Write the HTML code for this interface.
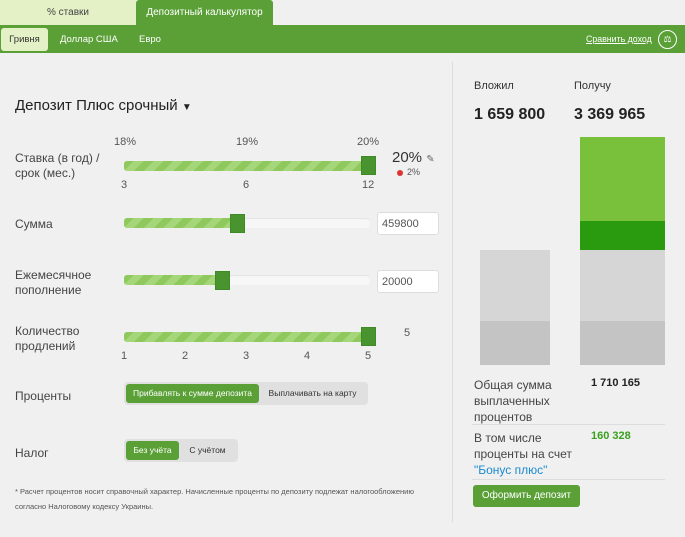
<!DOCTYPE html>
<html><head><meta charset="utf-8"><style>
*{margin:0;padding:0;box-sizing:border-box}
body{width:685px;height:537px;background:#f0f0f0;font-family:"Liberation Sans",Arial,sans-serif;color:#333;position:relative;overflow:hidden}
.a{position:absolute}
.track{position:absolute;height:10px;border-radius:3px;background:#f7f7f7;box-shadow:inset 0 1px 1px #e2e2e2}
.fill{position:absolute;left:0;top:0;height:10px;border-radius:3px;background:repeating-linear-gradient(135deg,#8fc95d 0 7px,#a6d67a 7px 14px)}
.h{position:absolute;width:15px;height:19px;background:#4a9430;border:1px solid #3f8a27}
.lbl{font-size:12px;color:#444;line-height:15px}
.inp{position:absolute;width:62px;height:23px;background:#fff;border:1px solid #ddd;border-radius:3px;font-size:11px;color:#555;padding:5px 4px}
.tg{position:absolute;height:23px;background:#e0e0e0;border-radius:4px;font-size:8.5px;color:#333}
.tg span{position:absolute;top:2px;height:19px;line-height:19px;text-align:center;border-radius:3px;white-space:nowrap}
.on{background:#5aa037;color:#fff}
.tick{font-size:11px;color:#555;position:absolute}
</style></head><body>
<div class="a" style="left:0;top:0;width:136px;height:25px;background:#e4f1c6;font-size:10px;text-align:center;line-height:25px;color:#444">% ставки</div>
<div class="a" style="left:136px;top:0;width:137px;height:26px;background:#5aa037;font-size:10px;text-align:center;line-height:25px;color:#fff;border-radius:3px 3px 0 0">Депозитный калькулятор</div>
<div class="a" style="left:0;top:25px;width:685px;height:28px;background:#5aa037"></div>
<div class="a" style="left:1px;top:28px;width:47px;height:23px;background:#e4f1c6;border-radius:3px;font-size:9.5px;text-align:center;line-height:23px;color:#333">Гривня</div>
<div class="a" style="left:60px;top:28px;font-size:9.5px;line-height:23px;color:#fff">Доллар США</div>
<div class="a" style="left:139px;top:28px;font-size:9.5px;line-height:23px;color:#fff">Евро</div>
<div class="a" style="left:586px;top:28px;font-size:8.8px;line-height:23px;color:#fff;text-decoration:underline">Сравнить доход</div>
<div class="a" style="left:658px;top:30px;width:19px;height:19px;border:1.5px solid #fff;border-radius:50%;color:#fff;font-size:9px;text-align:center;line-height:16px">⚖</div>

<div class="a" style="left:452px;top:62px;width:1px;height:460px;background:#ddd"></div>

<div class="a" style="left:15px;top:97px;font-size:15px;color:#222">Депозит Плюс срочный <span style="font-size:10px">▼</span></div>

<div class="a lbl" style="left:15px;top:151px">Ставка (в год) /<br>срок (мес.)</div>
<div class="tick" style="left:114px;top:136px">18%</div>
<div class="tick" style="left:236px;top:136px">19%</div>
<div class="tick" style="left:357px;top:136px">20%</div>
<div class="track" style="left:124px;top:161px;width:246px"><div class="fill" style="width:246px"></div></div>
<div class="h" style="left:361px;top:156px"></div>
<div class="tick" style="left:121px;top:179px">3</div>
<div class="tick" style="left:243px;top:179px">6</div>
<div class="tick" style="left:362px;top:179px">12</div>
<div class="a" style="left:392px;top:149px;font-size:15px;color:#333">20% <span style="font-size:10px;color:#666">✎</span></div>
<div class="a" style="left:397px;top:170px;width:6px;height:6px;background:#d33;border-radius:50%"></div>
<div class="a" style="left:407px;top:167px;font-size:9px;color:#555">2%</div>

<div class="a lbl" style="left:15px;top:217px">Сумма</div>
<div class="track" style="left:124px;top:218px;width:246px"><div class="fill" style="width:110px"></div></div>
<div class="h" style="left:230px;top:214px"></div>
<div class="inp" style="left:377px;top:212px">459800</div>

<div class="a lbl" style="left:15px;top:268px">Ежемесячное<br>пополнение</div>
<div class="track" style="left:124px;top:275px;width:246px"><div class="fill" style="width:95px"></div></div>
<div class="h" style="left:215px;top:271px"></div>
<div class="inp" style="left:377px;top:270px">20000</div>

<div class="a lbl" style="left:15px;top:324px">Количество<br>продлений</div>
<div class="track" style="left:124px;top:332px;width:246px"><div class="fill" style="width:246px"></div></div>
<div class="h" style="left:361px;top:327px"></div>
<div class="tick" style="left:404px;top:327px">5</div>
<div class="tick" style="left:121px;top:350px">1</div>
<div class="tick" style="left:182px;top:350px">2</div>
<div class="tick" style="left:243px;top:350px">3</div>
<div class="tick" style="left:304px;top:350px">4</div>
<div class="tick" style="left:365px;top:350px">5</div>

<div class="a lbl" style="left:15px;top:389px">Проценты</div>
<div class="tg" style="left:124px;top:382px;width:244px"><span class="on" style="left:2px;width:133px">Прибавлять к сумме депозита</span><span style="left:135px;width:107px">Выплачивать на карту</span></div>
<div class="a lbl" style="left:15px;top:446px">Налог</div>
<div class="tg" style="left:124px;top:439px;width:114px"><span class="on" style="left:2px;width:53px">Без учёта</span><span style="left:55px;width:57px">С учётом</span></div>

<div class="a" style="left:15px;top:484px;font-size:7.5px;color:#555;line-height:15px">* Расчет процентов носит справочный характер. Начисленные проценты по депозиту подлежат налогообложению<br>согласно Налоговому кодексу Украины.</div>

<div class="a" style="left:474px;top:80px;font-size:11px;color:#333">Вложил</div>
<div class="a" style="left:574px;top:80px;font-size:11px;color:#333">Получу</div>
<div class="a" style="left:474px;top:106px;font-size:16px;font-weight:bold;color:#222">1 659 800</div>
<div class="a" style="left:574px;top:106px;font-size:16px;font-weight:bold;color:#222">3 369 965</div>

<div class="a" style="left:480px;top:250px;width:70px;height:71px;background:#d6d6d6"></div>
<div class="a" style="left:480px;top:321px;width:70px;height:44px;background:#c4c4c4"></div>
<div class="a" style="left:580px;top:137px;width:85px;height:84px;background:#79c03b"></div>
<div class="a" style="left:580px;top:221px;width:85px;height:29px;background:#2a9a0e"></div>
<div class="a" style="left:580px;top:250px;width:85px;height:71px;background:#d6d6d6"></div>
<div class="a" style="left:580px;top:321px;width:85px;height:44px;background:#c4c4c4"></div>

<div class="a lbl" style="left:474px;top:377px;line-height:16px">Общая сумма<br>выплаченных<br>процентов</div>
<div class="a" style="left:591px;top:377px;font-size:11px;font-weight:bold;color:#222">1 710 165</div>
<div class="a" style="left:472px;top:424px;width:193px;height:1px;background:#ddd"></div>
<div class="a lbl" style="left:474px;top:430px;line-height:16px">В том числе<br>проценты на счет<br><span style="color:#1a8ad0">"Бонус плюс"</span></div>
<div class="a" style="left:591px;top:430px;font-size:11px;font-weight:bold;color:#3aa01e">160 328</div>
<div class="a" style="left:472px;top:479px;width:193px;height:1px;background:#ddd"></div>
<div class="a" style="left:473px;top:485px;width:107px;height:22px;background:#5aa037;border-radius:3px;color:#fff;font-size:10px;text-align:center;line-height:22px">Оформить депозит</div>
</body></html>
